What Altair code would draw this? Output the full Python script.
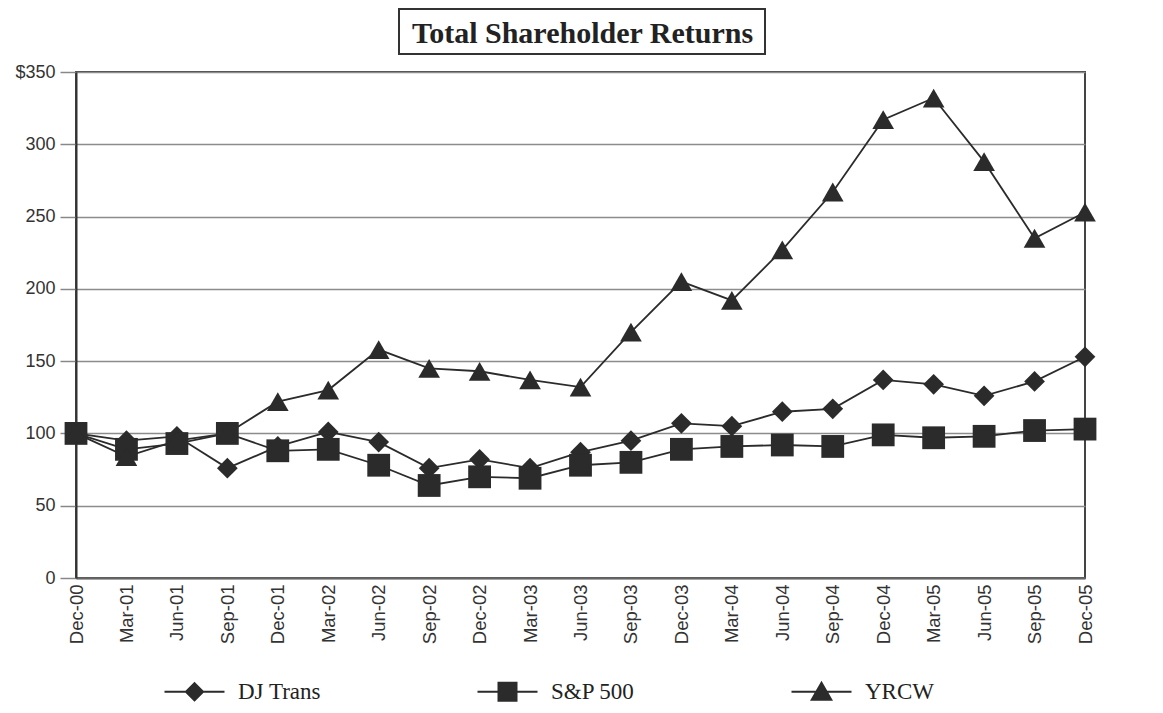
import altair as alt
import pandas as pd

months = ["Dec-00", "Mar-01", "Jun-01", "Sep-01", "Dec-01", "Mar-02", "Jun-02",
          "Sep-02", "Dec-02", "Mar-03", "Jun-03", "Sep-03", "Dec-03", "Mar-04",
          "Jun-04", "Sep-04", "Dec-04", "Mar-05", "Jun-05", "Sep-05", "Dec-05"]

dj_trans = [100, 95, 98, 76, 91, 101, 94, 76, 82, 76, 87, 95, 107, 105, 115,
            117, 137, 134, 126, 136, 153]
sp500 = [100, 89, 93, 100, 88, 89, 78, 64, 70, 69, 78, 80, 89, 91, 92, 91,
         99, 97, 98, 102, 103]
yrcw = [100, 84, 95, 100, 122, 130, 158, 145, 143, 137, 132, 170, 205, 192,
        227, 267, 317, 332, 288, 235, 253]

series_names = ["DJ Trans", "S&P 500", "YRCW"]
series_values = [dj_trans, sp500, yrcw]
y_ticks = [0, 50, 100, 150, 200, 250, 300, 350]
chart_title = "Total Shareholder Returns"

rows = []
for name, vals in zip(series_names, series_values):
    for i, (m, v) in enumerate(zip(months, vals)):
        rows.append({"month": m, "order": i, "series": name, "value": v})
df = pd.DataFrame(rows)

INK = "#2b2b2b"
W, H = 1009, 506

x_enc = alt.X("month:O", sort=months, title=None,
              scale=alt.Scale(type="point", padding=0),
              axis=alt.Axis(labelAngle=-90, ticks=False, grid=False,
                            labelFont="Liberation Sans", labelFontSize=18.5,
                            labelColor="#333", labelPadding=6,
                            domainColor="#666", domainWidth=2))
y_enc = alt.Y("value:Q", title=None,
              scale=alt.Scale(domain=[0, 350], nice=False),
              axis=alt.Axis(values=y_ticks, grid=True, gridColor="#8c8c8c",
                            gridWidth=1.5, domainColor="#333", domainWidth=2,
                            tickColor="#888", tickWidth=1.5, tickSize=16,
                            labelFont="Liberation Sans", labelFontSize=18,
                            labelColor="#333", labelPadding=5,
                            labelExpr="datum.value == 350 ? '$350' : datum.label"))

base = alt.Chart(df)

lines = base.mark_line(color=INK, strokeWidth=1.8).encode(
    x=x_enc, y=y_enc, detail="series:N")

shapes = {"DJ Trans": ("diamond", 430), "S&P 500": ("square", 520),
          "YRCW": ("triangle-up", 470)}
point_layers = []
for name in series_names:
    shp, sz = shapes[name]
    point_layers.append(
        base.transform_filter(alt.datum.series == name)
        .mark_point(filled=True, shape=shp, size=sz, color=INK, opacity=1)
        .encode(x=x_enc, y=y_enc))

# legend symbols: marker with a short line through it
legend_paths = [
    "M-3,-0.09H3V0.09H-3Z M0,-1L1,0L0,1L-1,0Z",
    "M-3,-0.09H3V0.09H-3Z M-1,-1H1V1H-1Z",
    "M-3,-0.09H3V0.09H-3Z M0,-1.1L1.15,0.9L-1.15,0.9Z",
]
legend_layer = base.transform_filter("false").mark_point(
    filled=True, color=INK, opacity=1).encode(
    x=x_enc, y=y_enc,
    shape=alt.Shape("series:N",
                    scale=alt.Scale(domain=series_names, range=legend_paths),
                    legend=alt.Legend(title=None, orient="none", direction="horizontal",
                                      legendX=107, legendY=608, padding=0,
                                      symbolSize=400, symbolFillColor=INK,
                                      symbolStrokeWidth=0, symbolOpacity=1,
                                      labelFont="Liberation Serif", labelFontSize=23,
                                      labelColor="#222", labelOffset=32,
                                      columnPadding=156)))

title_df = pd.DataFrame({"t": [chart_title]})
box = alt.Chart(title_df).mark_rect(
    fill="transparent", stroke="#333", strokeWidth=2).encode(
    x=alt.value(323), x2=alt.value(689), y=alt.value(-63), y2=alt.value(-18))
title_text = alt.Chart(title_df).mark_text(
    font="Liberation Serif", fontSize=30, fontWeight="bold", color="#222",
    align="center", baseline="alphabetic").encode(
    text="t:N", x=alt.value(506.5), y=alt.value(-29))

chart = alt.layer(box, title_text, lines, *point_layers, legend_layer).properties(
    width=W, height=H,
    background="white",
    autosize=alt.AutoSizeParams(type="none"),
    padding={"left": 68, "top": 64, "right": 70, "bottom": 127},
).configure_view(stroke="#444", strokeWidth=2)

chart.save("out.html", embed_options={"renderer": "svg", "actions": False})
